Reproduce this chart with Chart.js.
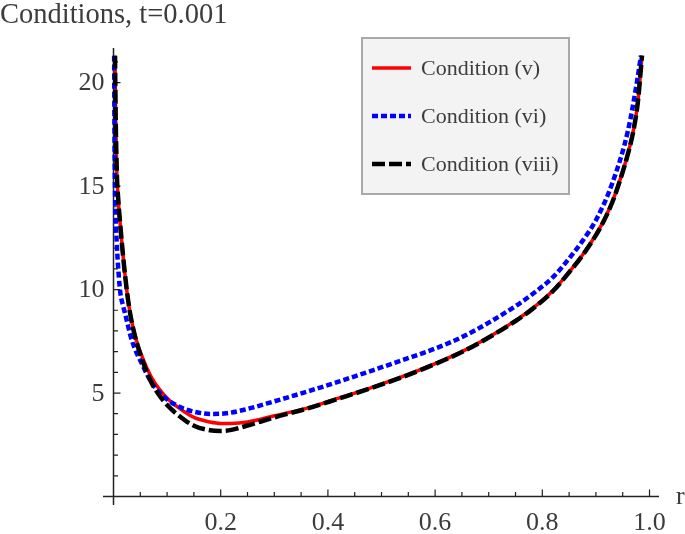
<!DOCTYPE html>
<html>
<head>
<meta charset="utf-8">
<script src="https://cdn.jsdelivr.net/npm/chart.js@4"></script>
<style>
  body { margin: 0; background: #fff; }
  #wrap { width: 685px; height: 534px; }
</style>
</head>
<body>
<div id="wrap"><canvas id="chart" width="685" height="534"></canvas></div>
<script>
// data (r, value)
const rA = [0.0028, 0.004, 0.006, 0.009, 0.012, 0.0215, 0.03, 0.04, 0.055, 0.07, 0.085, 0.1, 0.12, 0.15, 0.18, 0.2, 0.22, 0.25, 0.3, 0.36, 0.42, 0.48, 0.54, 0.6, 0.65, 0.7, 0.75, 0.78, 0.82, 0.85, 0.88, 0.91, 0.93, 0.945, 0.96, 0.97, 0.978, 0.982, 0.986];
const condV = [21.3, 18.5, 15.8, 14.3, 13.3, 10.7, 9.0, 7.8, 6.65, 5.8, 5.2, 4.75, 4.32, 3.82, 3.6, 3.53, 3.53, 3.6, 3.9, 4.26, 4.75, 5.25, 5.8, 6.42, 7.0, 7.7, 8.5, 9.05, 9.95, 10.85, 11.85, 13.1, 14.2, 15.3, 16.6, 17.7, 19.0, 20.1, 21.3];
const condVIII = [21.3, 18.5, 15.8, 14.3, 13.3, 10.7, 9.0, 7.75, 6.5, 5.55, 4.9, 4.42, 3.95, 3.42, 3.2, 3.17, 3.22, 3.43, 3.82, 4.24, 4.73, 5.23, 5.78, 6.4, 6.98, 7.68, 8.48, 9.03, 9.93, 10.83, 11.83, 13.08, 14.18, 15.28, 16.58, 17.68, 19.0, 20.1, 21.3];

const rB = [0.0012, 0.002, 0.003, 0.006, 0.01, 0.013, 0.018, 0.0215, 0.034, 0.0556, 0.07, 0.087, 0.105, 0.13, 0.155, 0.18, 0.21, 0.242, 0.3, 0.36, 0.42, 0.485, 0.54, 0.6, 0.65, 0.7, 0.75, 0.78, 0.82, 0.85, 0.875, 0.9, 0.93, 0.96, 0.977, 0.984];
const condVI = [21.3, 17.0, 14.5, 12.3, 10.6, 9.8, 9.2, 8.85, 7.56, 6.27, 5.55, 4.99, 4.6, 4.26, 4.07, 3.99, 4.02, 4.18, 4.6, 5.06, 5.55, 6.11, 6.6, 7.15, 7.7, 8.4, 9.2, 9.75, 10.6, 11.5, 12.35, 13.35, 15.1, 17.7, 20.1, 21.3];

const xTicks = [0.2, 0.4, 0.6, 0.8, 1.0];
const xTickLabels = ['0.2', '0.4', '0.6', '0.8', '1.0'];
const yTicks = [5, 10, 15, 20];
const yTickLabels = ['5', '10', '15', '20'];

const seriesNames = ['Condition (v)', 'Condition (vi)', 'Condition (viii)'];

const FONT = '"Liberation Serif", "DejaVu Serif", serif';
const TEXT = '#3c3c3c';

function pts(xs, ys) {
  return xs.map((x, i) => ({ x: x, y: ys[i] }));
}

// axes drawn Mathematica style: lines through origin, ticks pointing inward
const axesPlugin = {
  id: 'axes',
  beforeDatasetsDraw(chart) {
    const c = chart.ctx;
    const xs = chart.scales.x, ys = chart.scales.y;
    const ca = chart.chartArea;
    const x0 = xs.getPixelForValue(0), y0 = ys.getPixelForValue(0);
    c.save();
    c.strokeStyle = '#222';
    c.lineWidth = 1.5;
    c.beginPath();
    c.moveTo(ca.left, y0); c.lineTo(ca.right, y0);
    c.moveTo(x0, ca.top); c.lineTo(x0, ca.bottom);
    c.stroke();

    c.lineWidth = 1.2;
    c.beginPath();
    for (let k = 1; k <= 20; k++) {
      const v = k * 0.05;
      const px = xs.getPixelForValue(v);
      const len = (k % 4 === 0) ? 7 : 4.5;
      c.moveTo(px, y0); c.lineTo(px, y0 - len);
    }
    for (let k = 1; k <= 21; k++) {
      const py = ys.getPixelForValue(k);
      const len = (k % 5 === 0) ? 7 : 4.5;
      c.moveTo(x0, py); c.lineTo(x0 + len, py);
    }
    c.stroke();

    c.fillStyle = TEXT;
    c.font = '26px ' + FONT;
    c.textAlign = 'center';
    c.textBaseline = 'middle';
    xTicks.forEach((v, i) => {
      c.fillText(xTickLabels[i], xs.getPixelForValue(v), y0 + 27);
    });
    c.textAlign = 'right';
    yTicks.forEach((v, i) => {
      c.fillText(yTickLabels[i], x0 - 9, ys.getPixelForValue(v) + 1);
    });
    c.restore();
  },
  afterDraw(chart) {
    const c = chart.ctx;
    const ys = chart.scales.y;
    c.save();
    c.fillStyle = TEXT;
    c.font = '28.5px ' + FONT;
    c.textAlign = 'left';
    c.textBaseline = 'middle';
    c.fillText('Conditions, t=0.001', 0, 16);
    c.font = '26px ' + FONT;
    c.fillText('r', 676, ys.getPixelForValue(0) + 1);

    // legend box
    c.fillStyle = '#f3f3f3';
    c.fillRect(362, 38, 207, 156);
    c.strokeStyle = '#a8a8a8';
    c.lineWidth = 2;
    c.strokeRect(362, 38, 207, 156);
    const rowsY = [68, 116, 164];
    chart.data.datasets.forEach((ds, i) => {
      c.beginPath();
      c.strokeStyle = ds.borderColor;
      c.lineWidth = ds.borderWidth;
      c.setLineDash(ds.borderDash || []);
      c.moveTo(372, rowsY[i]); c.lineTo(411, rowsY[i]);
      c.stroke();
      c.setLineDash([]);
      c.fillStyle = TEXT;
      c.font = '22px ' + FONT;
      c.fillText(ds.label, 421, rowsY[i] + 1);
    });
    c.restore();
  }
};

new Chart(document.getElementById('chart'), {
  type: 'line',
  data: {
    datasets: [
      {
        label: seriesNames[0],
        data: pts(rA, condV),
        borderColor: '#ff0000',
        borderWidth: 3.5,
        order: 3
      },
      {
        label: seriesNames[1],
        data: pts(rB, condVI),
        borderColor: '#0000ff',
        borderWidth: 4.5,
        borderDash: [6, 3],
        order: 2
      },
      {
        label: seriesNames[2],
        data: pts(rA, condVIII),
        borderColor: '#000000',
        borderWidth: 4.5,
        borderDash: [13, 4],
        order: 1
      }
    ]
  },
  options: {
    responsive: false,
    devicePixelRatio: 1,
    animation: false,
    cubicInterpolationMode: 'monotone',
    elements: { point: { radius: 0 }, line: { fill: false } },
    layout: { padding: { left: 103, right: 26, top: 48, bottom: 29 } },
    scales: {
      x: { type: 'linear', min: -0.0196, max: 1.0177, display: false },
      y: { type: 'linear', min: -0.41, max: 21.67, display: false }
    },
    plugins: {
      legend: { display: false },
      tooltip: { enabled: false }
    }
  },
  plugins: [axesPlugin]
});
</script>
</body>
</html>
